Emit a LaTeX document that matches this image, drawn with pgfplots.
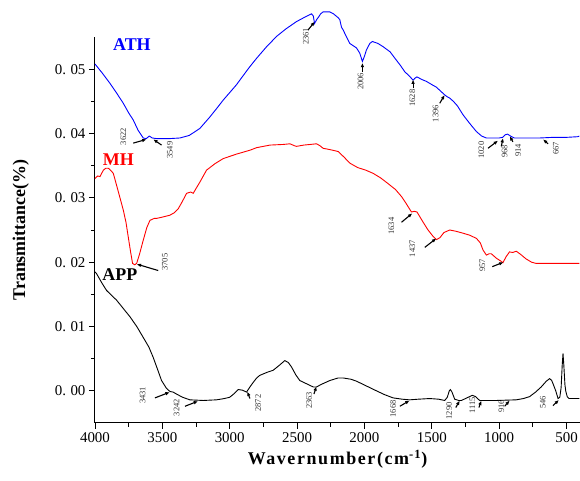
\documentclass[border=0pt]{standalone}
\usepackage{fontspec}
\setmainfont{Liberation Serif}
\usepackage{pgfplots}
\pgfplotsset{compat=1.18}
\usetikzlibrary{arrows.meta}

\definecolor{athblue}{RGB}{0,0,255}
\definecolor{mhred}{RGB}{255,0,0}

% peak marker: rotated number + short arrow
\newcommand{\peak}[7]{%
  \node[rotate=90, font=\fontsize{8.5}{9}\selectfont, text=black!80] at (axis cs:#1,#2) {#3};
  \draw[-{Latex[length=4.5bp,width=3.6bp]}, line width=1.1bp] (axis cs:#4,#5) -- (axis cs:#6,#7);
}

\begin{document}
\begin{tikzpicture}
\begin{axis}[
    scale only axis,
    width=485bp, height=386bp,
    x dir=reverse,
    xmin=400, xmax=4000,
    ymin=-0.005, ymax=0.055,
    axis lines*=left,
    axis line style={line width=1bp},
    tick align=outside,
    major tick length=6bp,
    minor tick length=4bp,
    tick style={line width=0.9bp, black},
    xtick={500,1000,...,4000},
    minor x tick num=1,
    ytick={0,0.01,0.02,0.03,0.04,0.05},
    yticklabels={0.\hspace{0.3em}00,0.\hspace{0.3em}01,0.\hspace{0.3em}02,0.\hspace{0.3em}03,0.\hspace{0.3em}04,0.\hspace{0.3em}05},
    minor y tick num=1,
    scaled y ticks=false,
    /pgf/number format/assume math mode=true,
    /pgf/number format/1000 sep={},
    ticklabel style={font=\fontsize{15}{17}\selectfont},
    xlabel={Wavernumber(cm\textsuperscript{-1})},
    ylabel={Transmittance(\%)},
    xlabel style={font=\bfseries\fontsize{18}{20}\selectfont\addfontfeature{LetterSpace=9}, yshift=-1bp},
    ylabel style={font=\bfseries\fontsize{18}{20}\selectfont, yshift=19bp, xshift=0bp},
    clip=false,
]

% ATH
\addplot[athblue, line width=0.9bp] coordinates {
(4000,0.0508) (3950,0.0495) (3889,0.0478) (3840,0.0463) (3790,0.0447) (3750,0.0432)
(3716,0.0421) (3680,0.0405) (3642,0.0393) (3620,0.0392) (3597,0.0396) (3575,0.0393)
(3540,0.0392) (3450,0.0392) (3370,0.0393) (3300,0.0397) (3221,0.0408) (3150,0.0425)
(3100,0.0438) (3048,0.0452) (2990,0.0466) (2949,0.0476) (2900,0.0490) (2850,0.0504)
(2800,0.0517) (2730,0.0534) (2652,0.0551) (2580,0.0563) (2504,0.0574) (2450,0.0580)
(2393,0.0586) (2380,0.0583) (2370,0.0571) (2355,0.0577) (2344,0.0580) (2325,0.0586)
(2307,0.0589) (2257,0.0589) (2230,0.0586) (2195,0.0580) (2183,0.0577) (2170,0.0565)
(2158,0.0561) (2140,0.0553) (2109,0.0540) (2080,0.0536) (2059,0.0533) (2035,0.0525)
(2015,0.0512) (2000,0.0520) (1985,0.0530) (1960,0.0540) (1941,0.0543) (1900,0.0540)
(1862,0.0535) (1810,0.0527) (1763,0.0514) (1730,0.0505) (1701,0.0496) (1670,0.0490)
(1639,0.0483) (1625,0.0486) (1610,0.0488) (1575,0.0484) (1540,0.0481) (1500,0.0476)
(1466,0.0472) (1430,0.0465) (1404,0.0460) (1385,0.0457) (1367,0.0455) (1340,0.0450)
(1310,0.0443) (1268,0.0429) (1220,0.0416) (1169,0.0403) (1130,0.0396) (1095,0.0393)
(1000,0.0393) (975,0.0394) (955,0.0398) (938,0.0399) (915,0.0396) (888,0.0393)
(800,0.0393) (700,0.0393) (600,0.0394) (500,0.0394) (417,0.0395) (405,0.0396)
};

% MH
\addplot[mhred, line width=0.9bp] coordinates {
(4000,0.0330) (3980,0.0334) (3963,0.0333) (3938,0.0343) (3920,0.0346) (3901,0.0346)
(3880,0.0342) (3864,0.0338) (3830,0.0312) (3790,0.0281) (3770,0.0262) (3753,0.0239)
(3735,0.0215) (3721,0.0198) (3705,0.0196) (3691,0.0198) (3670,0.0212) (3642,0.0234)
(3615,0.0254) (3592,0.0265) (3560,0.0268) (3543,0.0268) (3500,0.0270) (3444,0.0273)
(3410,0.0277) (3382,0.0283) (3350,0.0295) (3320,0.0307) (3290,0.0309) (3271,0.0307)
(3220,0.0325) (3172,0.0343) (3110,0.0353) (3048,0.0361) (2949,0.0368) (2850,0.0374)
(2800,0.0378) (2700,0.0382) (2600,0.0383) (2553,0.0384) (2520,0.0381) (2504,0.0380)
(2450,0.0382) (2400,0.0383) (2356,0.0384) (2330,0.0381) (2307,0.0377) (2257,0.0375)
(2195,0.0372) (2150,0.0363) (2109,0.0354) (2050,0.0347) (1990,0.0343) (1935,0.0338)
(1880,0.0331) (1824,0.0322) (1770,0.0313) (1725,0.0302) (1690,0.0291) (1651,0.0278)
(1630,0.0279) (1610,0.0278) (1570,0.0264) (1528,0.0250) (1490,0.0240) (1466,0.0235)
(1440,0.0238) (1410,0.0246) (1367,0.0250) (1320,0.0248) (1268,0.0245) (1220,0.0242)
(1169,0.0237) (1140,0.0230) (1120,0.0219) (1095,0.0211) (1075,0.0213) (1058,0.0213)
(1020,0.0206) (990,0.0202) (972,0.0199) (950,0.0208) (923,0.0216) (900,0.0215)
(873,0.0217) (840,0.0212) (800,0.0205) (760,0.0200) (725,0.0198) (600,0.0198)
(500,0.0198) (405,0.0198)
};

% APP
\addplot[black, line width=0.9bp] coordinates {
(4000,0.0185) (3988,0.0182) (3950,0.0168) (3914,0.0156) (3880,0.0149) (3840,0.0141)
(3790,0.0128) (3740,0.0115) (3690,0.0100) (3642,0.0083) (3600,0.0068) (3568,0.0052)
(3535,0.0033) (3506,0.0016) (3470,0.0004) (3444,-0.0001) (3420,-0.0002) (3395,-0.0005)
(3350,-0.0010) (3296,-0.0014) (3197,-0.0015) (3098,-0.0014) (3040,-0.0012) (3000,-0.0010)
(2965,-0.0004) (2937,0.0002) (2905,0.0001) (2875,-0.0002) (2850,0.0006) (2826,0.0013)
(2800,0.0020) (2777,0.0024) (2720,0.0029) (2677,0.0032) (2630,0.0040) (2591,0.0047)
(2565,0.0044) (2541,0.0037) (2510,0.0025) (2480,0.0016) (2420,0.0010) (2380,0.0006)
(2356,0.0006) (2320,0.0010) (2257,0.0016) (2195,0.0020) (2158,0.0020) (2100,0.0018)
(2059,0.0015) (1990,0.0008) (1911,0.0000) (1850,-0.0006) (1787,-0.0011) (1720,-0.0013)
(1664,-0.0014) (1600,-0.0013) (1515,-0.0012) (1450,-0.0013) (1404,-0.0015) (1385,-0.0010)
(1370,0.0000) (1362,0.0002) (1350,-0.0002) (1330,-0.0013) (1300,-0.0015) (1280,-0.0015)
(1240,-0.0011) (1199,-0.0007) (1175,-0.0009) (1150,-0.0014) (1144,-0.0015) (1021,-0.0015)
(873,-0.0014) (820,-0.0012) (774,-0.0009) (730,-0.0002) (688,0.0006) (650,0.0015)
(625,0.0019) (610,0.0016) (600,0.0011) (580,0.0000) (563,-0.0012) (550,-0.0010)
(540,0.0005) (532,0.0040) (526,0.0058) (520,0.0040) (512,0.0010) (506,0.0000)
(495,-0.0009) (481,-0.0012) (417,-0.0012) (405,-0.0012)
};

% series names
\node[font=\bfseries\fontsize{18}{20}\selectfont, text=athblue] at (axis cs:3726,0.0538) {ATH};
\node[font=\bfseries\fontsize{18}{20}\selectfont, text=mhred] at (axis cs:3827,0.0359) {MH};
\node[font=\bfseries\fontsize{18}{20}\selectfont, text=black] at (axis cs:3815,0.0180) {APP};

% ATH peaks
\peak{3790}{0.0395}{3622}{3716}{0.0385}{3617}{0.0391}
\peak{3444}{0.0374}{3549}{3506}{0.0382}{3568}{0.0391}
\peak{2435}{0.0551}{2361}{2418}{0.0561}{2368}{0.0574}
\peak{2029}{0.0481}{2006}{2015}{0.0496}{2015}{0.0510}
\peak{1644}{0.0455}{1628}{1639}{0.0470}{1639}{0.0484}
\peak{1471}{0.0431}{1396}{1441}{0.0447}{1404}{0.0460}
\peak{1132}{0.0374}{1020}{1083}{0.0377}{1008}{0.0389}
\peak{959}{0.0372}{968}{984}{0.0380}{971}{0.0393}
\peak{860}{0.0374}{914}{898}{0.0387}{922}{0.0396}
\peak{580}{0.0377}{667}{637}{0.0384}{675}{0.0391}

% MH peaks
\peak{3481}{0.0200}{3705}{3531}{0.0187}{3691}{0.0197}
\peak{1800}{0.0256}{1634}{1725}{0.0262}{1644}{0.0276}
\peak{1644}{0.0221}{1437}{1552}{0.0223}{1466}{0.0237}
\peak{1125}{0.0195}{957}{1051}{0.0193}{967}{0.0200}

% APP peaks
\peak{3647}{-0.0007}{3431}{3555}{-0.0011}{3444}{-0.0002}
\peak{3395}{-0.0026}{3242}{3332}{-0.0024}{3234}{-0.0016}
\peak{2789}{-0.0019}{2872}{2850}{-0.0012}{2870}{-0.0001}
\peak{2410}{-0.0015}{2363}{2375}{-0.0005}{2356}{0.0007}
\peak{1787}{-0.0028}{1668}{1737}{-0.0024}{1664}{-0.0015}
\peak{1371}{-0.0031}{1290}{1322}{-0.0026}{1292}{-0.0015}
\peak{1199}{-0.0023}{1115}{1150}{-0.0026}{1132}{-0.0015}
\peak{984}{-0.0024}{916}{959}{-0.0024}{922}{-0.0015}
\peak{675}{-0.0018}{546}{600}{-0.0023}{556}{-0.0014}

\end{axis}
\pgfresetboundingbox
\path ([shift={(-95bp,-58bp)}]current axis.south west) rectangle ([shift={(0bp,37bp)}]current axis.north east);
\end{tikzpicture}
\end{document}
